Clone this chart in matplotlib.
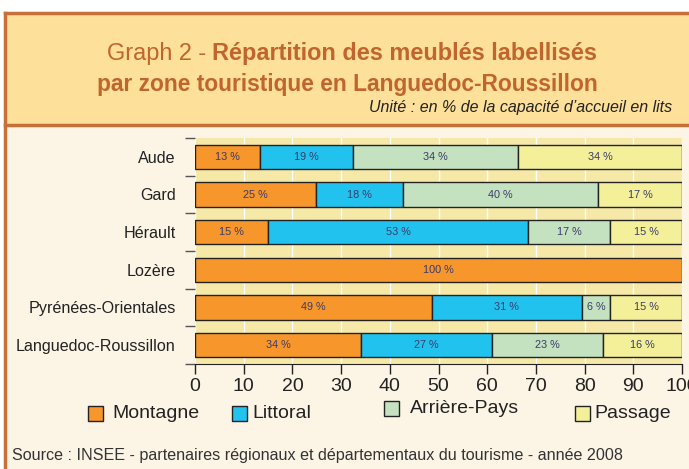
import matplotlib
matplotlib.use("Agg")
import matplotlib.pyplot as plt
from matplotlib.patches import Rectangle
import numpy as np

categories = ["Aude", "Gard", "Hérault", "Lozère", "Pyrénées-Orientales", "Languedoc-Roussillon"]
series_names = ["Montagne", "Littoral", "Arrière-Pays", "Passage"]
montagne = [13.3, 24.8, 15.0, 100.0, 48.6, 34.1]
littoral = [19.1, 17.9, 53.4, 0.0, 30.9, 26.9]
arriere = [33.9, 40.1, 16.8, 0.0, 5.8, 22.8]
passage = [33.7, 17.2, 14.8, 0.0, 14.7, 16.2]
xticks = [0, 10, 20, 30, 40, 50, 60, 70, 80, 90, 100]

colors = ["#f7962b", "#22c2ef", "#c4e2c0", "#f4f09a"]
border = "#c8703a"
title_col = "#c0652e"
FONT = ["Liberation Sans", "DejaVu Sans"]
plt.rcParams["font.family"] = FONT

W, H = 689, 469
fig = plt.figure(figsize=(W / 100, H / 100), dpi=100)
fig.patch.set_facecolor("white")

def fx(px):
    return px / W

def fy(py):
    return 1 - py / H

# body and header backgrounds
fig.patches.append(Rectangle((fx(5), 0), 1, fy(125), transform=fig.transFigure,
                             facecolor="#fcf5e6", edgecolor="none", zorder=0))
fig.patches.append(Rectangle((fx(5), fy(125)), 1, fy(13) - fy(125), transform=fig.transFigure,
                             facecolor="#fde09a", edgecolor="none", zorder=0))
# borders
fig.add_artist(plt.Line2D([fx(5), fx(5)], [0, fy(13)], color=border, lw=2.5, transform=fig.transFigure))
fig.add_artist(plt.Line2D([fx(5), 1], [fy(13), fy(13)], color=border, lw=2.5, transform=fig.transFigure))
fig.add_artist(plt.Line2D([fx(5), 1], [fy(125), fy(125)], color=border, lw=2.5, transform=fig.transFigure))

# Title with mixed weights
renderer = fig.canvas.get_renderer()
def mixed_line(parts, y, size, cx):
    texts = []
    total = 0
    for s, w in parts:
        t = fig.text(0, y, s, fontsize=size, fontweight=w, color=title_col, va="baseline")
        bb = t.get_window_extent(renderer=renderer)
        texts.append((t, bb.width))
        total += bb.width
    x = (cx - total / 2)
    for t, wpx in texts:
        t.set_x(x / W)
        x += wpx

mixed_line([("Graph 2 - ", "normal"), ("Répartition des meublés labellisés", "bold")], fy(60), 16.9, 352)
mixed_line([("par zone touristique en Languedoc-Roussillon", "bold")], fy(91), 16.4, 347)
fig.text(fx(672), fy(112), "Unité : en % de la capacité d’accueil en lits", fontsize=11.5,
         style="italic", color="#222222", ha="right", va="baseline")

# Chart axes
ax = fig.add_axes([fx(195), fy(364), fx(682) - fx(195), fy(138) - fy(364)], zorder=3)
ax.set_facecolor("#f6e9a8")
n = len(categories)
y = np.arange(n)
data = [montagne, littoral, arriere, passage]
left = np.zeros(n)
for vals, c in zip(data, colors):
    vals = np.array(vals)
    mask = vals > 0
    ax.barh(y[mask], vals[mask], left=left[mask], height=0.64, color=c,
            edgecolor="#222222", linewidth=1.0, zorder=3)
    for yi, v, l in zip(y[mask], vals[mask], left[mask]):
        ax.text(l + v / 2, yi, f"{round(v):d} %", ha="center", va="center",
                fontsize=7.8, color="#3a3a6a", zorder=4)
    left = left + vals

ax.set_xlim(0, 100)
ax.set_ylim(n - 0.5, -0.5)
ax.set_xticks(xticks)
ax.set_xticklabels([str(t) for t in xticks], fontsize=14, color="#222222")
ax.tick_params(axis="x", length=7, width=1, color="#222222", direction="out", pad=3)
ax.set_yticks(y)
ax.set_yticklabels(categories, fontsize=11.6, color="#222222")
ax.tick_params(axis="y", which="major", length=0, pad=14)
ax.set_yticks(np.arange(n + 1) - 0.5, minor=True)
ax.tick_params(axis="y", which="minor", length=7, width=1, color="#555555")
ax.grid(axis="x", color="white", linewidth=1, zorder=1)
ax.set_axisbelow(True)
for s in ["top", "right", "left"]:
    ax.spines[s].set_visible(False)
ax.spines["bottom"].set_color("#222222")

# Legend
leg_pos = [(88, 112, 413), (232, 252, 413), (384, 410, 408), (575, 594, 413)]
for (sx, tx, ly), name, c in zip(leg_pos, series_names, colors):
    fig.patches.append(Rectangle((fx(sx), fy(ly + 7.5)), fx(15), (15 / H), transform=fig.transFigure,
                                 facecolor=c, edgecolor="#222222", linewidth=1, zorder=2))
    fig.text(fx(tx), fy(ly), name, fontsize=14, color="#222222", va="center")

fig.text(fx(12), fy(455), "Source : INSEE - partenaires régionaux et départementaux du tourisme - année 2008",
         fontsize=11.6, color="#333333", va="center")

fig.savefig("out.png", dpi=100)
